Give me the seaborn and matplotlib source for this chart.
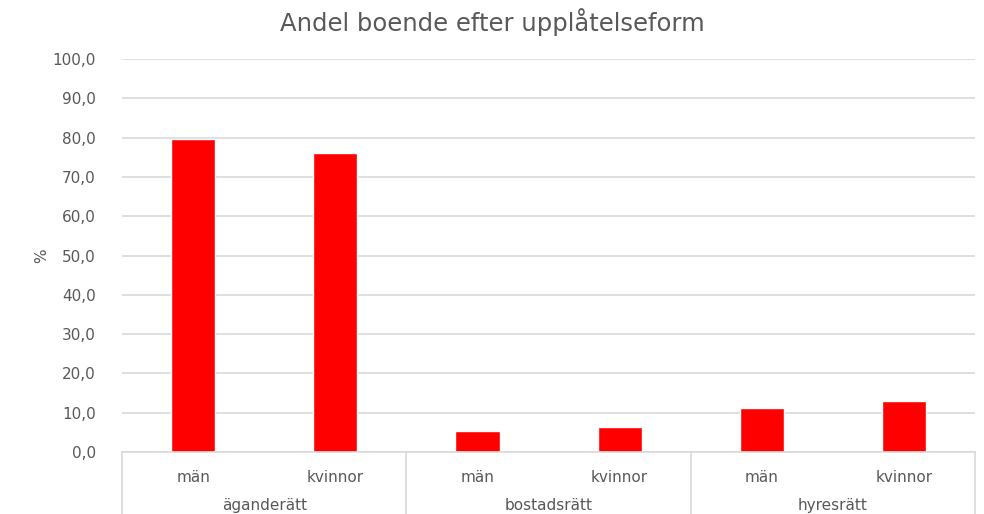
import pandas as pd
import numpy as np
import seaborn as sns
import matplotlib.pyplot as plt
from matplotlib.transforms import blended_transform_factory

# data
upplatelseform = ['äganderätt', 'bostadsrätt', 'hyresrätt']
kon = ['män', 'kvinnor']
andel = [79.6, 76.1, 5.4, 6.4, 11.3, 13.1]
yticks = [0, 10, 20, 30, 40, 50, 60, 70, 80, 90, 100]

df = pd.DataFrame({
    'form': np.repeat(upplatelseform, len(kon)),
    'kon': kon * len(upplatelseform),
    'andel': andel,
})
df['kategori'] = df['form'] + '|' + df['kon']

sns.set_style('white')
plt.rcParams['font.family'] = ['DejaVu Sans']
grey = '#595959'
line_grey = '#d9d9d9'

fig = plt.figure(figsize=(9.84, 5.14), dpi=100)
ax = fig.add_axes([0.124, 0.1206, 0.867, 0.7646])

sns.barplot(data=df, x='kategori', y='andel', order=df['kategori'],
            color='#ff0000', saturation=1, width=0.31, ax=ax)

ax.set_ylim(0, 100)
ax.set_xlim(-0.5, len(df) - 0.5)
ax.set_yticks(yticks)
ax.set_yticklabels([f'{v:.1f}'.replace('.', ',') for v in yticks],
                   fontsize=11, color=grey)
ax.yaxis.grid(True, color=line_grey, linewidth=1.2)
ax.set_axisbelow(True)
ax.tick_params(axis='y', length=0, pad=19)
ax.tick_params(axis='x', length=0, pad=13)
for s in ['top', 'right', 'left']:
    ax.spines[s].set_visible(False)
ax.spines['bottom'].set_color(line_grey)
ax.spines['bottom'].set_linewidth(1.2)

ax.set_xticks(range(len(df)))
ax.set_xticklabels(df['kon'], fontsize=11, color=grey)
ax.set_xlabel('')
ax.set_ylabel('%', fontsize=11, color=grey, labelpad=2)

# second level of the category axis
trans = blended_transform_factory(ax.transData, ax.transAxes)
for i, form in enumerate(upplatelseform):
    mid = i * 2 + 0.5
    ax.text(mid, -0.136, form, transform=trans, ha='center', va='center',
            fontsize=11, color=grey)
for b in range(len(upplatelseform) + 1):
    xb = b * 2 - 0.5
    ax.plot([xb, xb], [0, -0.2], transform=trans, color=line_grey,
            linewidth=1.2, clip_on=False)

fig.suptitle('Andel boende efter upplåtelseform', fontsize=17.5, color=grey,
             y=0.985)

plt.savefig('out.png', dpi=100)
